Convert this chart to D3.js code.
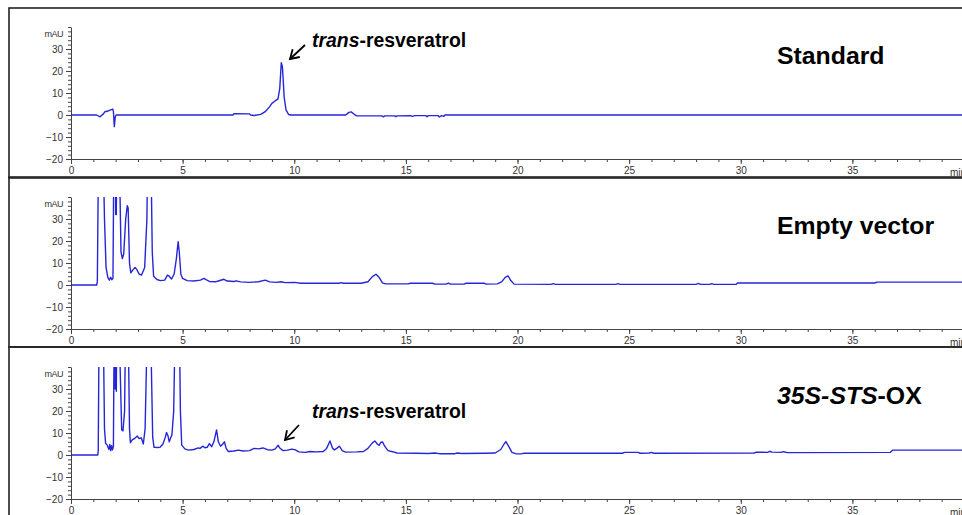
<!DOCTYPE html>
<html>
<head>
<meta charset="utf-8">
<script src="https://cdn.jsdelivr.net/npm/d3@7"></script>
<style>
  body { margin: 0; background: #fff; }
  svg { display: block; font-family: "Liberation Sans", Arial, sans-serif; }
</style>
</head>
<body>
<div id="chart"></div>
<script>
// 各クロマトグラムのデータ [時間(min), 吸光度(mAU)]
var standardTrace = [
  [0,0],[1.15,0],[1.3,-0.8],[1.45,0.5],[1.52,1.5],[1.65,1.8],[1.75,2.2],[1.87,2.7],[1.9,1.5],[1.94,-5.3],[1.98,-1],[2.02,0],
  [7.25,0],[7.3,0.6],[8.0,0.5],[8.05,0],[8.2,-0.2],[8.5,0.3],[8.7,1.5],[8.9,3.8],[9.0,5.3],[9.15,6.5],[9.27,7.2],[9.35,12],
  [9.42,23.8],[9.47,22],[9.55,8],[9.63,2.3],[9.75,0.2],[9.85,0],[12.3,0],[12.45,1.2],[12.55,1.4],[12.7,0.2],[12.8,-0.4],
  [13.9,-0.4],[14.0,-0.8],[14.05,-0.4],[14.5,-0.4],[14.55,-0.8],[14.6,-0.4],[15.2,-0.3],[15.3,-0.6],[15.4,-0.3],[15.9,-0.3],
  [15.95,-0.8],[16.0,-0.3],[16.45,-0.3],[16.5,-0.9],[16.6,-0.3],[16.7,-0.6],[16.75,0],[40,0]
];
var emptyTrace = [
  [0,0],[1.15,0],[1.18,1.5],[1.25,80],[1.4,80],[1.5,30],[1.57,8],[1.65,3.5],[1.72,2.2],[1.78,3.5],[1.83,2.4],[1.88,3],
  [1.92,60],[1.98,100],[2.0,32],[2.03,32],[2.08,100],[2.18,50],[2.24,15],[2.3,12],[2.36,14],[2.45,30],[2.52,36],[2.56,35],
  [2.62,10],[2.68,5.5],[2.78,7],[2.87,8],[2.95,7],[3.05,5],[3.16,4.5],[3.3,8],[3.4,30],[3.47,90],[3.58,60],[3.64,15],[3.7,4],
  [3.85,2.5],[4.0,2],[4.2,2.2],[4.32,4.5],[4.4,4],[4.5,2.7],[4.62,5],[4.72,12],[4.8,19.7],[4.85,15],[4.92,5],[5.0,3],[5.2,2],
  [5.5,1.8],[5.8,2.2],[5.95,3],[6.05,2.4],[6.2,1.6],[6.5,1.5],[6.6,1.8],[6.85,2.6],[7.0,1.8],[7.3,1.6],[7.4,1.9],[7.6,1.4],
  [8.0,1.2],[8.4,1.5],[8.7,2.2],[8.9,1.4],[9.2,1.2],[9.4,1.5],[9.6,1.1],[10.0,1.2],[10.3,0.8],[12.0,0.8],[12.1,1.1],[12.2,0.8],
  [13.0,0.8],[13.3,1.5],[13.5,3.8],[13.66,4.9],[13.8,3.5],[13.95,1],[14.1,0.5],[15.1,0.5],[15.2,0.8],[16.2,0.8],[16.3,0.4],
  [16.8,0.4],[16.9,0.9],[17.0,0.4],[17.6,0.4],[17.7,0.8],[18.5,0.8],[18.6,0.4],[19.1,0.5],[19.3,1.5],[19.45,3.5],[19.58,4.1],
  [19.7,2],[19.85,0.4],[21.5,0.3],[21.6,0.6],[21.7,0.3],[24.4,0.3],[24.5,0.6],[24.6,0.3],[28.0,0.3],[28.1,0.7],[28.2,0.3],
  [28.6,0.3],[28.7,0.6],[28.8,0.3],[29.8,0.3],[29.85,0.9],[36.0,0.9],[36.1,1.3],[40,1.3]
];
var stsTrace = [
  [0,0],[1.2,0],[1.22,2],[1.28,90],[1.42,80],[1.5,12],[1.55,5.3],[1.62,4.5],[1.7,2.5],[1.74,4.8],[1.78,2],[1.82,4.2],[1.86,2.3],
  [1.9,4],[1.94,70],[1.98,30],[2.0,60],[2.03,29],[2.06,70],[2.1,100],[2.2,40],[2.27,11.4],[2.33,11],[2.4,20],[2.48,90],
  [2.56,60],[2.62,12],[2.66,5.6],[2.75,7],[2.85,7.5],[2.97,8.6],[3.05,7.5],[3.15,7.8],[3.24,5],[3.32,12],[3.42,60],[3.5,90],
  [3.6,40],[3.66,8],[3.72,3.5],[3.9,3.4],[4.0,3.6],[4.12,5],[4.22,8],[4.28,10.2],[4.35,8.5],[4.4,6],[4.47,8],[4.52,9],[4.6,20],
  [4.7,80],[4.82,90],[4.9,20],[4.96,4.5],[5.1,2.8],[5.26,2.2],[5.5,2.5],[5.7,3.2],[5.78,3],[5.9,4],[6.0,3.3],[6.1,3.5],
  [6.2,5.2],[6.3,3.8],[6.4,6],[6.52,11.4],[6.6,6],[6.7,4],[6.8,5],[6.87,6],[6.95,3],[7.05,1.6],[7.3,1.8],[7.5,2.2],[7.7,1.8],
  [8.0,2],[8.2,3],[8.4,2.8],[8.6,3.2],[8.8,2.4],[9.0,2.2],[9.15,2.8],[9.28,4.4],[9.35,3.2],[9.5,2],[9.7,2.2],[9.9,2.7],
  [10.05,2.3],[10.2,1.4],[10.5,1.2],[10.7,1.6],[11.0,1.4],[11.3,1.6],[11.45,3],[11.6,6.4],[11.72,3],[11.8,2.3],[11.9,3],
  [12.02,4],[12.15,2],[12.3,1.3],[12.8,1.4],[13.1,1.6],[13.3,3],[13.5,5.5],[13.61,6.4],[13.72,5],[13.8,4.4],[13.88,5.8],
  [13.96,5.9],[14.05,4],[14.2,2],[14.4,1.5],[14.6,0.9],[15.5,0.8],[16.0,0.7],[16.3,0.9],[16.5,0.6],[17.2,0.6],[17.3,0.9],
  [17.5,0.7],[18.5,0.8],[19.0,0.9],[19.25,2.5],[19.4,5],[19.48,6.1],[19.6,4],[19.75,1.2],[19.95,0.5],[20.2,0.6],[20.3,0.8],
  [24.7,0.8],[24.8,1.2],[25.4,1.2],[25.5,0.8],[25.9,0.9],[26.0,1.2],[26.1,0.8],[30.6,0.9],[30.7,1.3],[31.2,1.2],[31.3,1.7],
  [31.4,1.3],[31.8,1.2],[31.9,1.5],[32.1,1.1],[36.7,1.2],[36.8,2.2],[40,2.2]
];

// 軸の目盛り
var xMajorTicks = [0, 5, 10, 15, 20, 25, 30, 35];
var xMinorTicks = d3.range(0, 40, 1);
var yMajorTicks = [-20, -10, 0, 10, 20, 30];
var yMinorTicks = d3.range(-20, 41, 2);

// パネル情報
var panelNames = ["Standard", "Empty vector", "35S-STS-OX"];
var panelTraces = [standardTrace, emptyTrace, stsTrace];

var width = 962, height = 515;
var panelH = 170;
var lineColor = "#2626d8";

var svg = d3.select("#chart").append("svg")
    .attr("width", width)
    .attr("height", height);

var xScale = d3.scaleLinear().domain([0, 40]).range([71, 964]);
var yScale = d3.scaleLinear().domain([-20, 40]).range([159, 27]);

var line = d3.line()
    .x(function(d){ return xScale(d[0]); })
    .y(function(d){ return yScale(d[1]); });

panelTraces.forEach(function(trace, i) {
    var g = svg.append("g")
        .attr("transform", "translate(0," + (i * panelH) + ")");

    // 枠線
    g.append("rect")
        .attr("x", 9).attr("y", 8 - (i > 0 ? 1 : 0))
        .attr("width", 1000).attr("height", panelH)
        .attr("fill", "none")
        .attr("stroke", "#222")
        .attr("stroke-width", 1.6);

    // クリップ領域
    g.append("clipPath").attr("id", "clip" + i)
        .append("rect")
        .attr("x", xScale(0)).attr("y", yScale(40))
        .attr("width", xScale(40) - xScale(0))
        .attr("height", yScale(-20) - yScale(40));

    // x軸 (minor -> major)
    g.append("g")
        .attr("transform", "translate(0," + yScale(-20) + ")")
        .call(d3.axisBottom(xScale).tickValues(xMinorTicks).tickSize(3).tickFormat(""))
        .call(function(a){ a.select(".domain").remove(); a.selectAll("line").attr("stroke", "#444"); });
    var xAxis = g.append("g")
        .attr("transform", "translate(0," + yScale(-20) + ")")
        .call(d3.axisBottom(xScale).tickValues(xMajorTicks).tickSize(5).tickSizeOuter(0).tickPadding(3));
    xAxis.select(".domain").attr("stroke", "#444");
    xAxis.selectAll("line").attr("stroke", "#444");
    xAxis.selectAll("text").attr("font-size", 10).attr("fill", "#333")
        .attr("font-family", "'Liberation Sans', Arial, sans-serif");
    g.append("text")
        .attr("x", 950).attr("y", 176)
        .attr("font-size", 10).attr("fill", "#333")
        .text("min");

    // y軸
    g.append("g")
        .attr("transform", "translate(" + xScale(0) + ",0)")
        .call(d3.axisLeft(yScale).tickValues(yMinorTicks).tickSize(3).tickFormat(""))
        .call(function(a){ a.select(".domain").remove(); a.selectAll("line").attr("stroke", "#444"); });
    var yAxis = g.append("g")
        .attr("transform", "translate(" + xScale(0) + ",0)")
        .call(d3.axisLeft(yScale).tickValues(yMajorTicks).tickSize(5).tickSizeOuter(0).tickPadding(3));
    yAxis.select(".domain").attr("stroke", "#444");
    yAxis.selectAll("line").attr("stroke", "#444");
    yAxis.selectAll("text").attr("font-size", 10).attr("fill", "#333")
        .attr("font-family", "'Liberation Sans', Arial, sans-serif");
    g.append("text")
        .attr("x", 63).attr("y", 37)
        .attr("text-anchor", "end")
        .attr("font-size", 9).attr("fill", "#333")
        .attr("letter-spacing", -0.5)
        .text("mAU");

    // クロマトグラム
    g.append("path")
        .datum(trace)
        .attr("clip-path", "url(#clip" + i + ")")
        .attr("fill", "none")
        .attr("stroke", lineColor)
        .attr("stroke-width", 1.4)
        .attr("stroke-linejoin", "round")
        .attr("d", line);

    // パネル名
    var title = g.append("text")
        .attr("x", 777).attr("y", 64)
        .attr("font-size", 24.8).attr("font-weight", "bold").attr("fill", "#000");
    if (i == 2) {
        title.append("tspan").attr("font-style", "italic").text("35S-STS");
        title.append("tspan").text("-OX");
    } else {
        title.text(panelNames[i]);
    }
});

// trans-resveratrol の注釈
var notes = [
    {tx: 312, ty: 47, x1: 305, y1: 45, x2: 290, y2: 59},
    {tx: 312, ty: 418, x1: 299, y1: 425, x2: 285, y2: 440}
];
notes.forEach(function(n) {
    var t = svg.append("text")
        .attr("x", n.tx).attr("y", n.ty)
        .attr("font-size", 19.4).attr("font-weight", "bold").attr("fill", "#000");
    t.append("tspan").attr("font-style", "italic").text("trans");
    t.append("tspan").text("-resveratrol");

    var ang = Math.atan2(n.y2 - n.y1, n.x2 - n.x1);
    var len = 10, spread = 0.55;
    svg.append("line")
        .attr("x1", n.x1).attr("y1", n.y1).attr("x2", n.x2).attr("y2", n.y2)
        .attr("stroke", "#000").attr("stroke-width", 1.8);
    svg.append("path")
        .attr("d", "M" + (n.x2 - len * Math.cos(ang - spread)) + "," + (n.y2 - len * Math.sin(ang - spread)) +
            "L" + n.x2 + "," + n.y2 +
            "L" + (n.x2 - len * Math.cos(ang + spread)) + "," + (n.y2 - len * Math.sin(ang + spread)))
        .attr("fill", "none").attr("stroke", "#000").attr("stroke-width", 1.8);
});
</script>
</body>
</html>
